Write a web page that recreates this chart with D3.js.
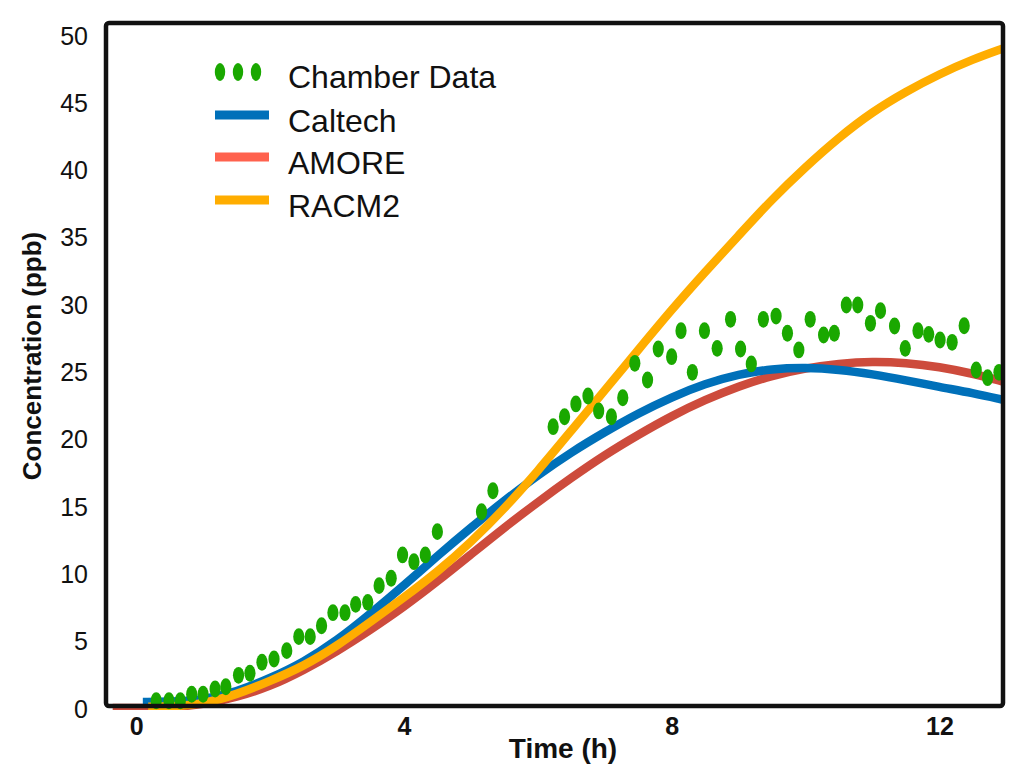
<!DOCTYPE html>
<html>
<head>
<meta charset="utf-8">
<script src="https://cdn.jsdelivr.net/npm/d3@7"></script>
<style>
  html, body { margin: 0; padding: 0; background: #fff; }
  svg { display: block; }
  text { font-family: "Liberation Sans", Arial, Helvetica, sans-serif; fill: #111; }
</style>
</head>
<body>
<svg id="chart" width="1033" height="784"></svg>
<script>
// ---------------- DATA ----------------
const chamberTime = [0.30,0.49,0.66,0.83,1.00,1.18,1.34,1.53,1.70,1.88,2.06,2.25,2.43,2.60,2.77,2.94,3.12,3.28,3.46,3.63,3.81,3.98,4.15,4.32,4.50,5.16,5.33,6.23,6.40,6.57,6.75,6.91,7.10,7.27,7.45,7.64,7.80,8.00,8.14,8.31,8.49,8.68,8.88,9.03,9.19,9.37,9.56,9.73,9.90,10.07,10.27,10.43,10.61,10.78,10.97,11.12,11.33,11.49,11.68,11.84,12.01,12.19,12.37,12.55,12.72,12.89];
const chamberConc = [0.54,0.54,0.54,1.02,1.02,1.41,1.58,2.43,2.58,3.40,3.64,4.26,5.30,5.30,6.11,7.08,7.08,7.70,7.85,9.09,9.64,11.37,10.87,11.37,13.10,14.58,16.14,20.90,21.64,22.59,23.18,22.07,21.64,23.05,25.61,24.37,26.67,26.10,28.03,24.94,28.03,26.72,28.88,26.67,25.56,28.88,29.12,27.84,26.60,28.88,27.71,27.84,29.94,29.94,28.58,29.52,28.38,26.72,28.03,27.76,27.34,27.17,28.40,25.11,24.54,24.94];

const caltechTime = [0.10,0.50,1.0,1.5,2.0,2.5,3.0,3.5,4.0,4.5,5.0,5.5,6.0,6.5,7.0,7.5,8.0,8.5,9.0,9.5,10.0,10.5,11.0,11.5,12.0,12.5,12.95];
const caltechConc = [0.45,0.45,0.6,1.2,2.2,3.4,5.0,7.0,9.1,11.3,13.4,15.4,17.3,19.0,20.5,21.9,23.1,24.1,24.8,25.2,25.3,25.15,24.8,24.35,23.85,23.4,22.9];

const amoreTime = [-0.35,0.3,0.5,1.0,1.5,2.0,2.5,3.0,3.5,4.0,4.5,5.0,5.5,6.0,6.5,7.0,7.5,8.0,8.5,9.0,9.5,10.0,10.5,11.0,11.5,12.0,12.5,12.95];
const amoreConc = [0,0,0.05,0.25,0.8,1.6,2.8,4.2,5.8,7.5,9.4,11.4,13.4,15.3,17.1,18.8,20.3,21.7,22.9,23.9,24.7,25.25,25.6,25.75,25.65,25.35,24.85,24.25];

const racm2Time = [0.18,0.5,1.0,1.5,2.0,2.5,3.0,3.5,4.0,4.5,5.0,5.5,6.0,6.5,7.0,7.5,8.0,8.5,9.0,9.5,10.0,10.5,11.0,11.5,12.0,12.5,12.95];
const racm2Conc = [0.1,0.1,0.3,1.0,2.0,3.1,4.6,6.4,8.2,10.1,12.3,14.8,17.6,20.6,23.6,26.6,29.6,32.4,35.1,37.8,40.2,42.4,44.3,45.8,47.1,48.2,49.0];

const xTicks = [0, 4, 8, 12];
const yTicks = [0, 5, 10, 15, 20, 25, 30, 35, 40, 45, 50];

const seriesNames = ["Chamber Data", "Caltech", "AMORE", "RACM2"];

// ---------------- SCALES ----------------
const svg = d3.select("#chart");
const x = d3.scaleLinear().domain([-0.45, 12.95]).range([106, 1003]);
const y = d3.scaleLinear().domain([0, 50]).range([708, 35]);

const frameTop = 23, frameBottom = 706;

const lineColors = { Caltech: "#0070b9", AMORE: "#cd4b3c", RACM2: "#ffad00" };
const legendColors = { Caltech: "#0070b9", AMORE: "#ff624e", RACM2: "#ffad00" };
const dotColor = "#1aa800";

// ---------------- LINES ----------------
const line = d3.line()
  .x(d => x(d[0]))
  .y(d => y(d[1]))
  .curve(d3.curveBasis);

const lineData = {
  AMORE: d3.zip(amoreTime, amoreConc),
  Caltech: d3.zip(caltechTime, caltechConc),
  RACM2: d3.zip(racm2Time, racm2Conc)
};

svg.append("clipPath").attr("id", "plotclip")
  .append("rect")
  .attr("x", x(-0.45)).attr("y", frameTop)
  .attr("width", x(12.95) - x(-0.45)).attr("height", frameBottom - frameTop + 4);

const plot = svg.append("g").attr("clip-path", "url(#plotclip)");

["AMORE", "Caltech", "RACM2"].forEach(name => {
  plot.append("path")
    .datum(lineData[name])
    .attr("fill", "none")
    .attr("stroke", lineColors[name])
    .attr("stroke-width", 8.5)
    .attr("stroke-linecap", "butt")
    .attr("d", line);
});

// ---------------- DOTS ----------------
svg.append("g").selectAll("ellipse")
  .data(d3.zip(chamberTime, chamberConc))
  .join("ellipse")
  .attr("cx", d => x(d[0]))
  .attr("cy", d => y(d[1]))
  .attr("rx", 5.6)
  .attr("ry", 8.4)
  .attr("fill", dotColor);

// ---------------- FRAME ----------------
svg.append("rect")
  .attr("x", x(-0.45)).attr("y", frameTop)
  .attr("width", x(12.95) - x(-0.45))
  .attr("height", frameBottom - frameTop)
  .attr("rx", 3).attr("ry", 3)
  .attr("fill", "none")
  .attr("stroke", "#111")
  .attr("stroke-width", 4.5);

// ---------------- AXES ----------------
const yAxis = d3.axisLeft(y).tickValues(yTicks).tickSize(0).tickPadding(0).tickFormat(d3.format("d"));
const gy = svg.append("g").attr("transform", "translate(88,0)").call(yAxis);
gy.select(".domain").remove();
gy.selectAll("text")
  .attr("font-size", 25)
  .attr("font-family", "'Liberation Sans', Arial, sans-serif")
  .attr("fill", "#111")
  .attr("dy", "0.36em");

const xAxis = d3.axisBottom(x).tickValues(xTicks).tickSize(0).tickPadding(0).tickFormat(d3.format("d"));
const gx = svg.append("g").attr("transform", "translate(0,717)").call(xAxis);
gx.select(".domain").remove();
gx.selectAll("text")
  .attr("font-size", 25)
  .attr("font-weight", "bold")
  .attr("font-family", "'Liberation Sans', Arial, sans-serif")
  .attr("fill", "#111")
  .attr("dy", "0.71em");

svg.append("text")
  .attr("x", 563).attr("y", 758)
  .attr("text-anchor", "middle")
  .attr("font-size", 28)
  .attr("font-weight", "bold")
  .text("Time (h)");

svg.append("text")
  .attr("transform", "translate(41,356) rotate(-90)")
  .attr("text-anchor", "middle")
  .attr("font-size", 26)
  .attr("font-weight", "bold")
  .text("Concentration (ppb)");

// ---------------- LEGEND ----------------
const legend = svg.append("g");
const rowY = [76, 120, 162, 205];
seriesNames.forEach((name, i) => {
  const cy = rowY[i];
  if (i === 0) {
    [220, 238, 256].forEach(cx => {
      legend.append("ellipse")
        .attr("cx", cx).attr("cy", cy - 4)
        .attr("rx", 5.2).attr("ry", 9)
        .attr("fill", dotColor);
    });
  } else {
    legend.append("line")
      .attr("x1", 215).attr("x2", 269)
      .attr("y1", cy - 5).attr("y2", cy - 5)
      .attr("stroke", legendColors[name])
      .attr("stroke-width", 9);
  }
  legend.append("text")
    .attr("x", 288).attr("y", cy)
    .attr("dy", "0.36em")
    .attr("font-size", 32)
    .text(name);
});
</script>
</body>
</html>
